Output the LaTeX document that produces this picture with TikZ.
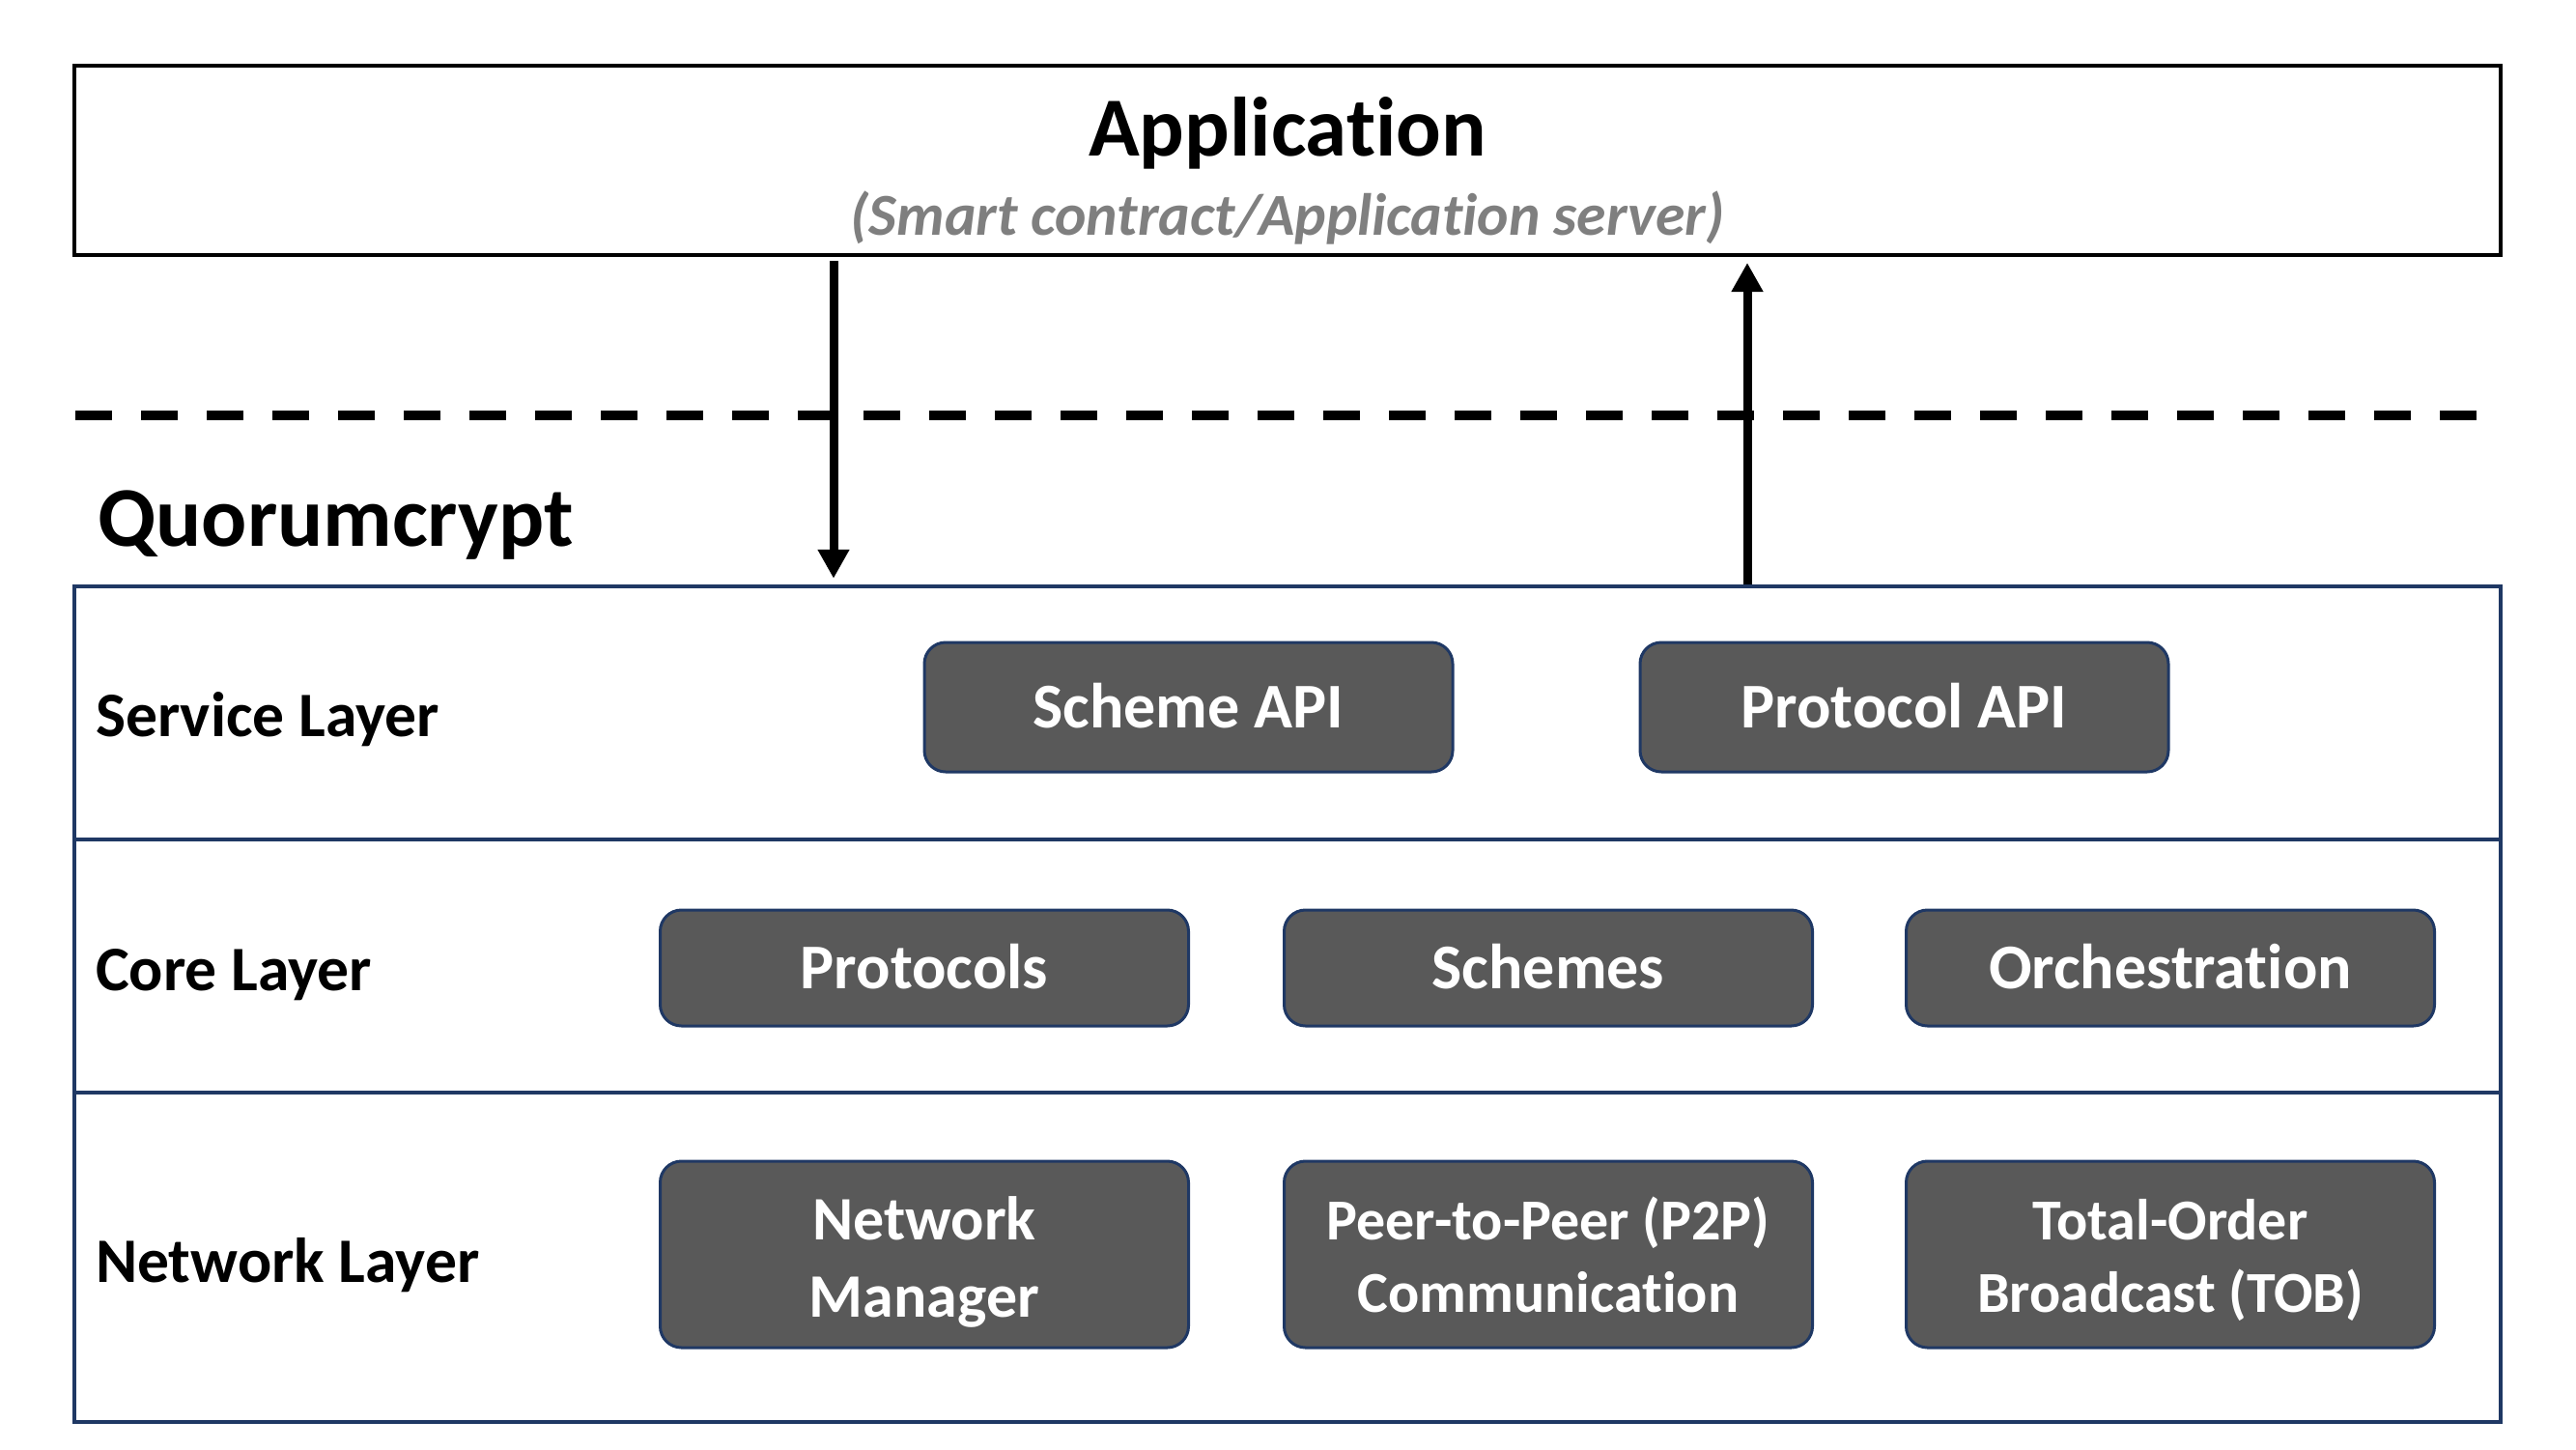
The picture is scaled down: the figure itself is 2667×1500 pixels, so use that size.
\documentclass[tikz,border=0pt]{standalone}
\usepackage{fontspec}
\setmainfont[Ligatures=NoCommon]{Carlito}
\usetikzlibrary{arrows.meta}
\definecolor{boxfill}{HTML}{595959}
\definecolor{navy}{HTML}{1F3864}
\definecolor{subgray}{HTML}{7F7F7F}
\begin{document}
\begin{tikzpicture}[x=0.25pt,y=-0.25pt,
  appbox/.style={draw=black, line width=1pt, minimum width=628pt, minimum height=49pt, inner sep=0pt},
  layerrow/.style={draw=navy, line width=1.1pt, minimum width=628pt, inner sep=0pt},
  compbox/.style={draw=navy, line width=0.75pt, fill=boxfill, rounded corners=5.5pt,
     minimum width=136.75pt, inner sep=0pt, text=white, align=center},
  onetext/.style={font=\fontsize{16.5pt}{20pt}\selectfont\bfseries, text height=10.6pt, text depth=0pt},
  twotext/.style={text=white, align=center, inner sep=0pt},
  layerlabel/.style={anchor=base west, font=\fontsize{16.4pt}{20pt}\selectfont\bfseries},
  flow/.style={line width=2.25pt, -{Triangle[width=7.75pt,length=7.5pt]}},
  dashline/.style={line width=2.5pt, dash pattern=on 9.5pt off 7.5pt}
]
\useasboundingbox (0,0) rectangle (2667,1500);

% Application box
\node[appbox] (app) at (1333,166) {};
\node[anchor=base, font=\fontsize{21.75pt}{26pt}\selectfont\bfseries] (apptitle) at (1333,161) {Application};
\node[anchor=base, text=subgray, font=\fontsize{15.4pt}{18pt}\selectfont\bfseries\itshape] (appsub) at (1333,243) {(Smart contract/Application server)};

% dashed separator
\coordinate (dl1) at (78,430);
\coordinate (dl2) at (2566,430);
\draw[dashline] (dl1) -- (dl2);

% Quorumcrypt title
\node[anchor=base west, font=\fontsize{22pt}{26pt}\selectfont\bfseries] (qtitle) at (87,565) {Quorumcrypt};

% layer rows
\node[layerrow, minimum height=65.5pt] (service) at (1333,738) {};
\node[layerrow, minimum height=65.5pt] (core) at (1333,1000) {};
\node[layerrow, minimum height=85.25pt] (network) at (1333,1301.5) {};

\node[layerlabel] (lservice) at (85,762) {Service Layer};
\node[layerlabel] (lcore) at (85,1025) {Core Layer};
\node[layerlabel] (lnetwork) at (85,1327) {Network Layer};

% service components
\node[compbox, onetext, minimum height=33.5pt] (sapi) at (1230.5,732) {Scheme API};
\node[compbox, onetext, minimum height=33.5pt] (papi) at (1971.5,732) {Protocol API};

% core components
\node[compbox, onetext, minimum height=30pt] (prot) at (957,1002) {Protocols};
\node[compbox, onetext, minimum height=30pt] (sch) at (1603,1002) {Schemes};
\node[compbox, onetext, minimum height=30pt] (orch) at (2247,1002) {Orchestration};

% network components
\node[compbox, minimum height=48.25pt] (nm) at (957,1298.5) {};
\node[compbox, minimum height=48.25pt] (p2p) at (1603,1298.5) {};
\node[compbox, minimum height=48.25pt] (tob) at (2247,1298.5) {};
\node[twotext, yshift=-2pt, font=\fontsize{16pt}{20pt}\selectfont\bfseries] (nmtext) at (nm.center) {Network\\Manager};
\node[twotext, font=\fontsize{15pt}{18.75pt}\selectfont\bfseries] (p2ptext) at (p2p.center) {Peer-to-Peer (P2P)\\Communication};
\node[twotext, yshift=-1.5pt, font=\fontsize{15pt}{18.75pt}\selectfont\bfseries] (tobtext) at (tob.center) {Total-Order\\Broadcast (TOB)};

% arrows
\coordinate (dnx) at (863,0);
\coordinate (upx) at (1809,0);
\draw[flow, shorten <=1pt, shorten >=1.5pt] (app.south -| dnx) -- (service.north -| dnx);
\draw[flow, shorten >=1.5pt] (service.north -| upx) -- (app.south -| upx);
\end{tikzpicture}
\end{document}
